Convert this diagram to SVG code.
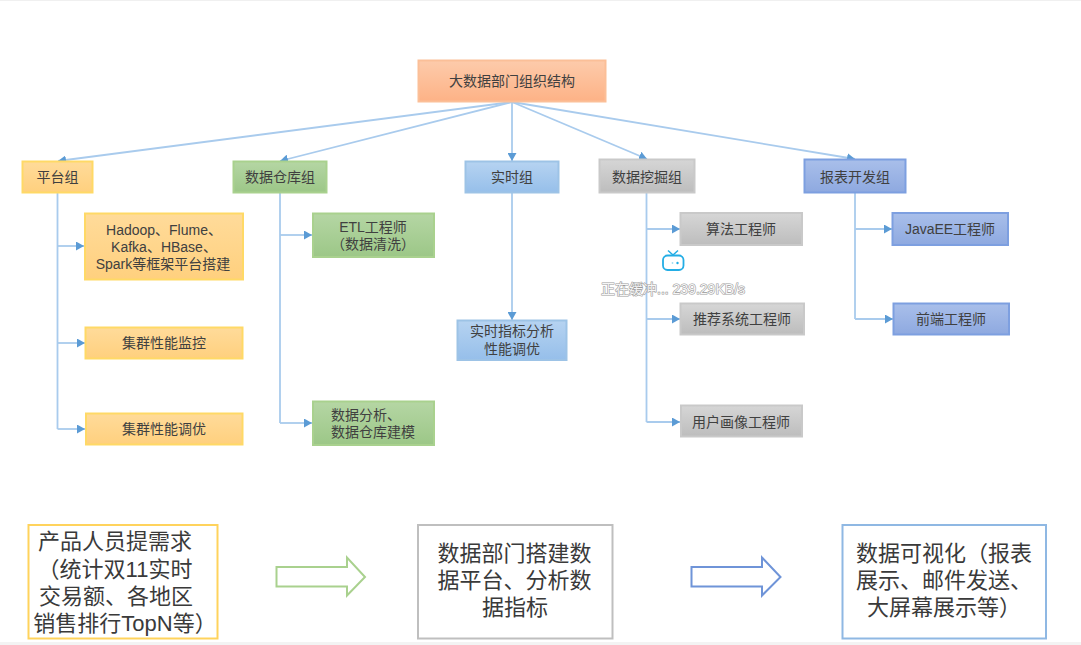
<svg xmlns="http://www.w3.org/2000/svg" width="1081" height="645" viewBox="0 0 1081 645">
  <style>
    text { font-family: "Liberation Sans", "Noto Sans CJK SC", sans-serif; fill: #404040; text-anchor: middle; }
    .s { font-size: 14px; }
    .l { font-size: 22px; fill: #3a3a3a; }
    .node { stroke-width: 2; }
    .orange { fill: url(#gOrange); stroke: #ffd966; }
    .green { fill: url(#gGreen); stroke: #a9d18e; }
    .blue { fill: url(#gBlue); stroke: #9dc3e6; }
    .gray { fill: url(#gGray); stroke: #c9c9c9; }
    .indigo { fill: url(#gIndigo); stroke: #7d9fe0; }
    .root { fill: url(#gRoot); stroke: #fbbf98; }
    .plain { fill: #fff; }
    .wire { fill: none; stroke: #a9cbed; stroke-width: 1.8; }
    .wire-top { marker-end: url(#tip); }
    .overlay { font-size: 14px; fill: #f6f6f6; stroke: #9a9a9a; stroke-width: 1.1px; paint-order: stroke; }
  </style>
  <defs>
    <linearGradient id="gOrange" x1="0" y1="0" x2="0" y2="1"><stop offset="0" stop-color="#ffdb9a"/><stop offset="1" stop-color="#ffd07e"/></linearGradient>
    <linearGradient id="gGreen" x1="0" y1="0" x2="0" y2="1"><stop offset="0" stop-color="#b5d6a4"/><stop offset="1" stop-color="#9cc787"/></linearGradient>
    <linearGradient id="gBlue" x1="0" y1="0" x2="0" y2="1"><stop offset="0" stop-color="#b6d3f1"/><stop offset="1" stop-color="#96bfea"/></linearGradient>
    <linearGradient id="gGray" x1="0" y1="0" x2="0" y2="1"><stop offset="0" stop-color="#d6d6d6"/><stop offset="1" stop-color="#bdbdbd"/></linearGradient>
    <linearGradient id="gIndigo" x1="0" y1="0" x2="0" y2="1"><stop offset="0" stop-color="#a9bfea"/><stop offset="1" stop-color="#8ea9e0"/></linearGradient>
    <linearGradient id="gRoot" x1="0" y1="0" x2="0" y2="1"><stop offset="0" stop-color="#fdcbab"/><stop offset="1" stop-color="#fdb286"/></linearGradient>
    <marker id="tip" viewBox="0 0 8 9" refX="8" refY="4.500" markerWidth="8" markerHeight="9" markerUnits="userSpaceOnUse" orient="auto">
      <path d="M0 0L8 4.500L0 9Z" fill="#5b9bd5"/>
    </marker>
  </defs>

  <rect width="1081" height="645" fill="#fff"/>
  <rect width="1081" height="1" fill="#f0f0f0"/>
  <rect y="642" width="1081" height="3" fill="#f3f3f3"/>

  <g id="connectors">
    <path class="wire wire-top" d="M512 102L58 161"/>
    <path class="wire wire-top" d="M512 102L280 161"/>
    <path class="wire wire-top" d="M512 102V161"/>
    <path class="wire wire-top" d="M512 102L647 159"/>
    <path class="wire wire-top" d="M512 102L855 159"/>

    <path class="wire" d="M57.500 193V429"/>
    <path class="wire wire-top" d="M57.500 246H84"/>
    <path class="wire wire-top" d="M57.500 343H85"/>
    <path class="wire wire-top" d="M57.500 429H85"/>

    <path class="wire" d="M280 193V423"/>
    <path class="wire wire-top" d="M280 235H312"/>
    <path class="wire wire-top" d="M280 423H312"/>

    <path class="wire wire-top" d="M512 193V320"/>

    <path class="wire" d="M646.500 193V422"/>
    <path class="wire wire-top" d="M646.500 229H680"/>
    <path class="wire wire-top" d="M646.500 319H680"/>
    <path class="wire wire-top" d="M646.500 422H680"/>

    <path class="wire" d="M855 193V319"/>
    <path class="wire wire-top" d="M855 229H892"/>
    <path class="wire wire-top" d="M855 319H893"/>
  </g>

  <g id="dept"><rect class="node root" x="418.500" y="60.500" width="187" height="41"/><text class="s" x="512" y="86">大数据部门组织结构</text></g>

  <g id="team-platform"><rect class="node orange" x="22.500" y="161.500" width="70" height="31"/><text class="s" x="57.500" y="182">平台组</text></g>
  <g id="team-warehouse"><rect class="node green" x="233.500" y="161.500" width="93" height="31"/><text class="s" x="280" y="182">数据仓库组</text></g>
  <g id="team-realtime"><rect class="node blue" x="465.500" y="161.500" width="93" height="31"/><text class="s" x="512" y="182">实时组</text></g>
  <g id="team-mining"><rect class="node gray" x="599.500" y="159.500" width="95" height="33"/><text class="s" x="647" y="182">数据挖掘组</text></g>
  <g id="team-report"><rect class="node indigo" x="804.500" y="159.500" width="101" height="33"/><text class="s" x="855" y="182">报表开发组</text></g>

  <g id="platform-build"><rect class="node orange" x="85" y="213.500" width="158" height="66"/>
    <text class="s" x="164" y="235">Hadoop、Flume、</text><text class="s" x="164" y="252">Kafka、HBase、</text><text class="s" x="163" y="269">Spark等框架平台搭建</text></g>
  <g id="platform-monitor"><rect class="node orange" x="85.500" y="327.500" width="157" height="31"/><text class="s" x="164" y="348">集群性能监控</text></g>
  <g id="platform-tune"><rect class="node orange" x="86" y="413.500" width="156.500" height="31"/><text class="s" x="164" y="434">集群性能调优</text></g>

  <g id="warehouse-etl"><rect class="node green" x="313" y="213.500" width="121" height="43.500"/>
    <text class="s" x="373" y="232">ETL工程师</text><text class="s" x="373" y="249">（数据清洗）</text></g>
  <g id="warehouse-model"><rect class="node green" x="313" y="401.500" width="121" height="43.500"/>
    <text class="s" x="366" y="420">数据分析、</text><text class="s" x="373" y="437">数据仓库建模</text></g>

  <g id="realtime-metrics"><rect class="node blue" x="457.500" y="320.500" width="109" height="39.500"/>
    <text class="s" x="512" y="336">实时指标分析</text><text class="s" x="512" y="354">性能调优</text></g>

  <g id="mining-algo"><rect class="node gray" x="680.500" y="213" width="121.500" height="32"/><text class="s" x="741" y="234">算法工程师</text></g>
  <g id="mining-recommend"><rect class="node gray" x="680.500" y="303.500" width="123.500" height="31"/><text class="s" x="742" y="324">推荐系统工程师</text></g>
  <g id="mining-profile"><rect class="node gray" x="681" y="405.500" width="121" height="31"/><text class="s" x="741" y="427">用户画像工程师</text></g>

  <g id="report-java"><rect class="node indigo" x="892.500" y="213" width="115.500" height="32"/><text class="s" x="950" y="234">JavaEE工程师</text></g>
  <g id="report-front"><rect class="node indigo" x="893.500" y="303.500" width="115.500" height="31"/><text class="s" x="951" y="324">前端工程师</text></g>

  <g id="step-demand"><rect class="node plain" x="28.500" y="525" width="189" height="113.500" stroke="#ffd35c"/>
    <text class="l" x="115" y="549">产品人员提需求</text>
    <text class="l" x="115" y="577">（统计双11实时</text>
    <text class="l" x="116" y="604">交易额、各地区</text>
    <text class="l" x="125" y="631">销售排行TopN等）</text></g>
  <g id="flow-a"><path d="M276.500 567H347V557.500L365 577L347 595.500V586.500H276.500Z" fill="#fff" stroke="#a9d18e" stroke-width="2"/></g>
  <g id="step-platform"><rect class="node plain" x="418" y="525" width="194.500" height="113.500" stroke="#bfbfbf"/>
    <text class="l" x="514.500" y="561">数据部门搭建数</text>
    <text class="l" x="514.500" y="588">据平台、分析数</text>
    <text class="l" x="515" y="615">据指标</text></g>
  <g id="flow-b"><path d="M691.500 567H762V557.500L780.500 577L762 595.500V586.500H691.500Z" fill="#fff" stroke="#6f94d8" stroke-width="2"/></g>
  <g id="step-visual"><rect class="node plain" x="842.500" y="525" width="203.500" height="113.500" stroke="#8fb8e3"/>
    <text class="l" x="944" y="561">数据可视化（报表</text>
    <text class="l" x="944" y="588">展示、邮件发送、</text>
    <text class="l" x="944" y="615">大屏幕展示等）</text></g>

  <g id="buffer-status">
    <rect x="663" y="255.500" width="20.500" height="14.500" rx="4.500" fill="#fff" stroke="#23ade5" stroke-width="1.800"/>
    <path d="M668 250.500L673 255M678 250.500L673 255" fill="none" stroke="#23ade5" stroke-width="1.500"/>
    <circle cx="677.500" cy="263" r="1.200" fill="#23ade5"/><circle cx="672.500" cy="263" r="0.900" fill="#9fdcf3"/>
    <text class="overlay" x="673" y="294">正在缓冲... 239.29KB/s</text>
  </g>
</svg>
